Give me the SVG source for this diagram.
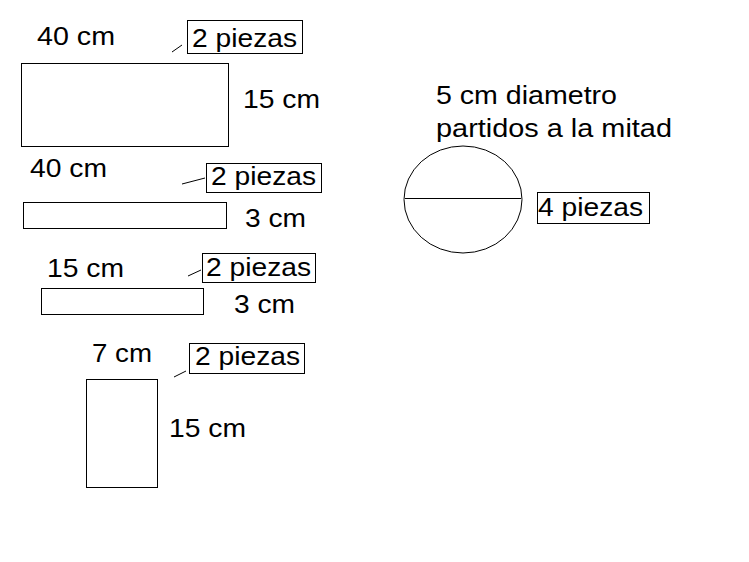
<svg xmlns="http://www.w3.org/2000/svg" width="749" height="562" viewBox="0 0 749 562">
<style>
text{font-family:"Liberation Sans",Arial,sans-serif;font-size:26px;fill:#000}
.s{fill:none;stroke:#000;stroke-width:1}
</style>
<rect width="749" height="562" fill="#fff"/>
<g id="piece1">
<rect class="s" x="21.5" y="63.5" width="207" height="83"/>
<text x="37" y="45" textLength="78" lengthAdjust="spacingAndGlyphs">40 cm</text>
<text x="243" y="108" textLength="77" lengthAdjust="spacingAndGlyphs">15 cm</text>
</g>
<g id="label1">
<rect class="s" x="187.5" y="20.5" width="115" height="33"/>
<text x="192" y="47" textLength="105" lengthAdjust="spacingAndGlyphs">2 piezas</text>
</g>
<g id="piece2">
<rect class="s" x="23.5" y="202.5" width="203" height="26"/>
<text x="30" y="177" textLength="77" lengthAdjust="spacingAndGlyphs">40 cm</text>
<text x="245" y="227" textLength="61" lengthAdjust="spacingAndGlyphs">3 cm</text>
</g>
<g id="label2">
<rect class="s" x="206.5" y="163.5" width="115" height="29"/>
<text x="211" y="185" textLength="105" lengthAdjust="spacingAndGlyphs">2 piezas</text>
</g>
<g id="piece3">
<rect class="s" x="41.5" y="288.5" width="162" height="26"/>
<text x="47" y="277" textLength="77" lengthAdjust="spacingAndGlyphs">15 cm</text>
<text x="234" y="313" textLength="61" lengthAdjust="spacingAndGlyphs">3 cm</text>
</g>
<g id="label3">
<rect class="s" x="202.5" y="253.5" width="113" height="29"/>
<text x="206" y="276" textLength="105" lengthAdjust="spacingAndGlyphs">2 piezas</text>
</g>
<g id="piece4">
<rect class="s" x="86.5" y="379.5" width="71" height="108"/>
<text x="92" y="362" textLength="60" lengthAdjust="spacingAndGlyphs">7 cm</text>
<text x="169" y="437" textLength="77" lengthAdjust="spacingAndGlyphs">15 cm</text>
</g>
<g id="label4">
<rect class="s" x="189.5" y="343.5" width="115" height="30"/>
<text x="195" y="365" textLength="105" lengthAdjust="spacingAndGlyphs">2 piezas</text>
</g>
<g id="circle">
<ellipse class="s" cx="463" cy="199.5" rx="59" ry="53.5"/>
<line class="s" x1="405" y1="198.5" x2="521" y2="198.5"/>
<text x="436" y="104" textLength="181" lengthAdjust="spacingAndGlyphs">5 cm diametro</text>
<text x="436" y="137" textLength="236" lengthAdjust="spacingAndGlyphs">partidos a la mitad</text>
</g>
<g id="label5">
<rect class="s" x="537.5" y="192.5" width="112" height="31"/>
<text x="538" y="216" textLength="105" lengthAdjust="spacingAndGlyphs">4 piezas</text>
</g>
<g id="connectors">
<line class="s" x1="172" y1="52" x2="182" y2="45"/>
<line class="s" x1="182" y1="184" x2="205" y2="178"/>
<line class="s" x1="188" y1="276" x2="201" y2="270"/>
<line class="s" x1="174" y1="377" x2="186" y2="371"/>
</g>
</svg>
